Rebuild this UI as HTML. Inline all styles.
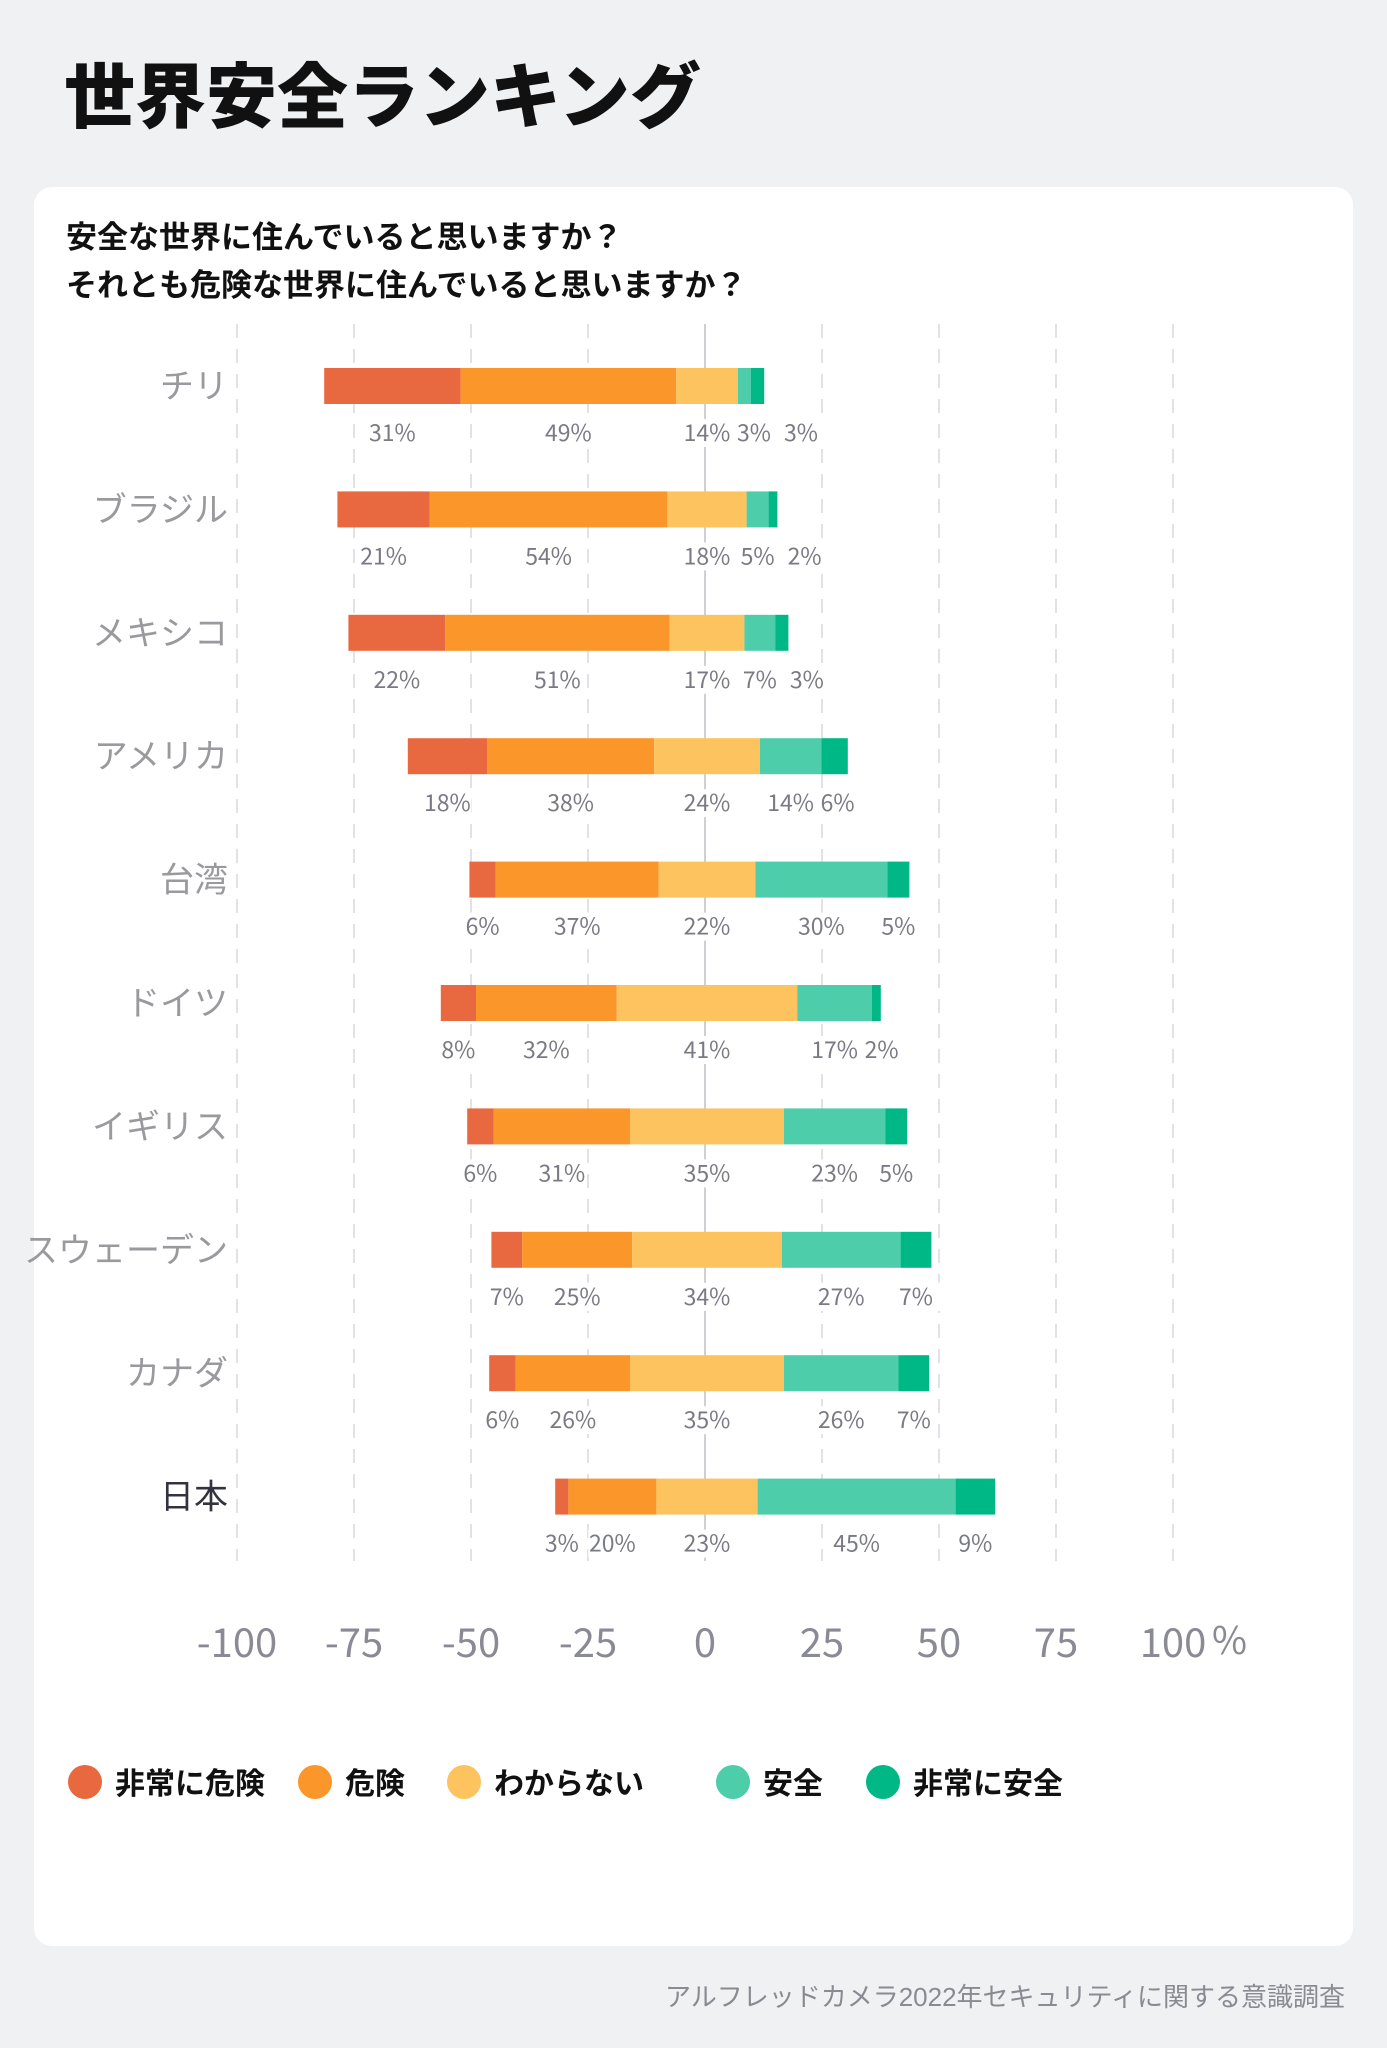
<!DOCTYPE html>
<html><head><meta charset="utf-8">
<style>
html,body{margin:0;padding:0;background:#f0f1f3;}
body{width:1387px;height:2048px;position:relative;overflow:hidden;font-family:"Liberation Sans","Noto Sans CJK JP",sans-serif;}
</style></head>
<body>
<svg id="chart" width="1387" height="2048" viewBox="0 0 1387 2048" xmlns="http://www.w3.org/2000/svg" style="position:absolute;left:0;top:0;font-family:'Liberation Sans','Noto Sans CJK JP',sans-serif;">
  <text x="64" y="122" font-size="71" font-weight="900" fill="#111">世界安全ランキング</text>
  <rect x="34" y="187" width="1319" height="1759" rx="18" fill="#fff"/>
  <text x="66" y="248" font-size="31" font-weight="bold" fill="#111">安全な世界に住んでいると思いますか？</text>
  <text x="66" y="296" font-size="31" font-weight="bold" fill="#111">それとも危険な世界に住んでいると思いますか？</text>
  <g id="grid"></g>
  <g id="bars"></g>
  <g id="ticks"></g>
  <g id="legend"></g>
  <text x="1345" y="2006" font-size="26" fill="#8a8a92" text-anchor="end">アルフレッドカメラ2022年セキュリティに関する意識調査</text>
</svg>
<script>
const countries = ["チリ","ブラジル","メキシコ","アメリカ","台湾","ドイツ","イギリス","スウェーデン","カナダ","日本"];
const veryDanger = [31,21,22,18,6,8,6,7,6,3];
const danger = [49,54,51,38,37,32,31,25,26,20];
const unknown = [14,18,17,24,22,41,35,34,35,23];
const safe = [3,5,7,14,30,17,23,27,26,45];
const verySafe = [3,2,3,6,5,2,5,7,7,9];
const tickValues = [-100,-75,-50,-25,0,25,50,75,100];
const seriesNames = ["非常に危険","危険","わからない","安全","非常に安全"];
const colors = ["#e8693f","#fb962a","#fcc35e","#4ecdab","#00b886"];

const NS="http://www.w3.org/2000/svg";
function mk(tag,attrs,parent){const e=document.createElementNS(NS,tag);for(const k in attrs)e.setAttribute(k,attrs[k]);parent.appendChild(e);return e;}
const axisX = v => 705 + v*4.68;
const barScale = 4.4;
const barCenter = 707;
const rowY = i => 386 + i*123.4;
const gridTop=324, gridBottom=1561;

const grid=document.getElementById('grid');
tickValues.forEach(v=>{
  const l=mk('line',{x1:axisX(v),x2:axisX(v),y1:gridTop,y2:gridBottom,stroke:v===0?'#cfcfd4':'#e2e2e6','stroke-width':2,'stroke-dasharray':v===0?'none':'14 11'},grid);
  
  
});

const bars=document.getElementById('bars');
const series=[veryDanger,danger,unknown,safe,verySafe];
countries.forEach((c,i)=>{
  const y=rowY(i);
  const vals=series.map(s=>s[i]);
  let x=barCenter - (vals[0]+vals[1]+vals[2]/2)*barScale;
  const lab=mk('text',{x:228,y:y+12,'font-size':34,'text-anchor':'end',fill:i===countries.length-1?'#333340':'#9a9a9e'},bars);
  lab.textContent=c;
  
  
  let prev=-1e9;
  vals.forEach((v,k)=>{
    const w=v*barScale;
    const r=mk('rect',{x:x,y:y-18,width:w,height:36,fill:colors[k]},bars);
    
    
    let cx=x+w/2;
    if(cx<prev+47)cx=prev+47;
    prev=cx;
    const bg=mk('rect',{x:cx-24,y:y+33,width:48,height:28,fill:'#fff'},bars);
    
    
    const t=mk('text',{x:cx,y:y+55,'font-size':23,'text-anchor':'middle',fill:'#7a7a84','font-family':"'Noto Sans CJK JP',sans-serif"},bars);
    t.textContent=v+'%';
    
    
    x+=w;
  });
});

const ticks=document.getElementById('ticks');
tickValues.forEach(v=>{
  const t=mk('text',{x:axisX(v),y:1657,'font-size':40,'text-anchor':'middle',fill:'#8a8a95','font-family':"'Noto Sans CJK JP',sans-serif"},ticks);
  t.textContent=String(v);
  
  
});
const pct=mk('text',{x:1212,y:1654,'font-size':38,fill:'#8a8a95','font-family':"'Noto Sans CJK JP',sans-serif"},ticks);
pct.textContent='%';



const legend=document.getElementById('legend');
const lx=[85,315,464,733,883];
seriesNames.forEach((n,k)=>{
  const c=mk('circle',{cx:lx[k],cy:1782,r:17,fill:colors[k]},legend);
  
  
  const t=mk('text',{x:lx[k]+30,y:1794,'font-size':30,'font-weight':'bold',fill:'#111'},legend);
  t.textContent=n;
  
  
});
</script>
</body></html>
